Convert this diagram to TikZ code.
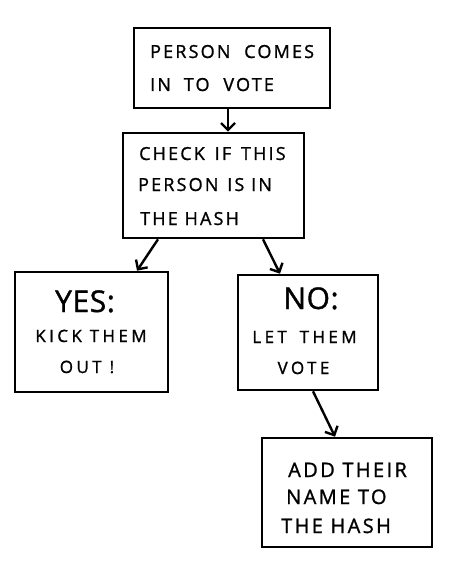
\documentclass[tikz,border=0pt]{standalone}
\usepackage{fontspec}
\setmainfont{Open Sans}[LetterSpace=12,FakeBold=1.2]
\usetikzlibrary{arrows.meta}
\begin{document}
\begin{tikzpicture}[x=1pt,y=-1pt,
  box/.style={draw, line width=2.6pt, inner sep=0pt, rectangle},
  lbl/.style={inner sep=0pt, font=\fontsize{18}{20}\selectfont},
  small/.style={inner sep=0pt, font=\fontsize{17}{20}\selectfont\addfontfeature{LetterSpace=20}},
  big/.style={inner sep=0pt, font=\fontsize{30}{34}\selectfont\addfontfeature{LetterSpace=2}},
  mid/.style={inner sep=0pt, font=\fontsize{20}{24}\selectfont},
  conn/.style={line width=2.4pt, -{Straight Barb[length=7pt,width=14pt,line width=2.4pt]}}]
\useasboundingbox (0,0) rectangle (453,564);
% boxes
\node[box, minimum width=196pt, minimum height=80pt] (b1) at (232,68) {};
\node[box, minimum width=181pt, minimum height=105pt] (b2) at (213.5,185.5) {};
\node[box, minimum width=153pt, minimum height=120pt] (b3) at (91.5,332) {};
\node[box, minimum width=140pt, minimum height=115pt] (b4) at (308,332.5) {};
\node[box, minimum width=170pt, minimum height=109pt] (b5) at (347,492.5) {};
% texts
\node[lbl, anchor=base west] (t11) at (150,58) {PERSON\hspace{7pt} COMES};
\node[lbl, anchor=base west] (t12) at (150,91) {IN\hspace{6pt} TO\hspace{7pt} VOTE};
\node[lbl, anchor=base west] (t21) at (139,160) {CHECK\hspace{3pt} IF\hspace{3pt} THIS};
\node[lbl, anchor=base west] (t22) at (138,191) {PERSON\hspace{2pt} IS IN};
\node[lbl, anchor=base west] (t23) at (140,225) {THE HASH};
\node[big, anchor=base] (t31) at (85,312) {YES:};
\node[small, anchor=base] (t32) at (91,342) {KICK THEM};
\node[small, anchor=base] (t33) at (87,373) {OUT\hspace{8pt}!};
\node[big, anchor=base] (t41) at (311,309) {NO:};
\node[small, anchor=base] (t42) at (304.5,343) {LET\hspace{5pt} THEM};
\node[small, anchor=base] (t43) at (303.5,374) {VOTE};
\node[mid, anchor=base west] (t51) at (288,477) {ADD THEIR};
\node[mid, anchor=base west] (t52) at (286,504) {NAME TO};
\node[mid, anchor=base west] (t53) at (281,533) {THE HASH};
% connectors
\draw[conn] ([xshift=-4pt]b1.south) -- ([xshift=14.5pt]b2.north);
\draw[conn] ([xshift=-55.5pt]b2.south) -- ([xshift=45.5pt]b3.north);
\draw[conn] ([xshift=49.5pt]b2.south) -- ([xshift=-28pt]b4.north);
\draw[conn] ([xshift=5pt]b4.south) -- ([xshift=-12pt]b5.north);
\end{tikzpicture}
\end{document}
